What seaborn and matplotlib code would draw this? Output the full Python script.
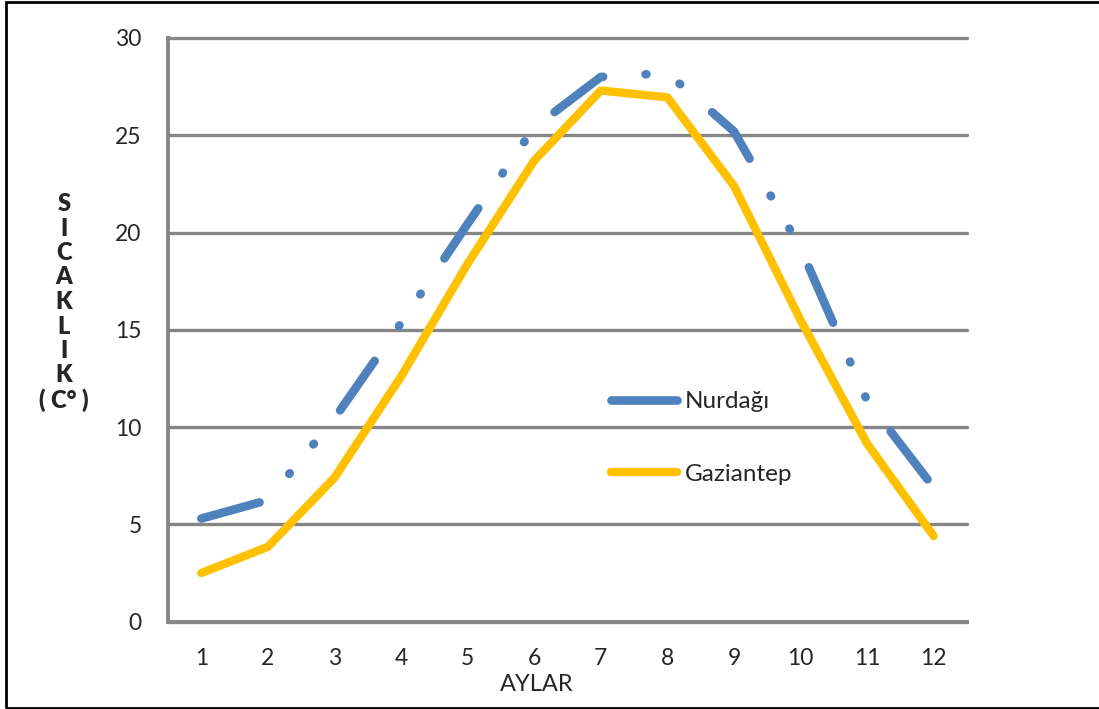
import numpy as np
import pandas as pd
import matplotlib
matplotlib.use("Agg")
import matplotlib.pyplot as plt
from matplotlib.patches import Rectangle
from matplotlib.ticker import MultipleLocator
import seaborn as sns

# monthly mean temperatures
months = list(range(1, 13))
nurdagi = [5.3, 6.25, 10.45, 15.35, 20.45, 25.4, 28.0, 28.2, 25.2, 19.2, 11.35, 6.9]
gaziantep = [2.5, 3.85, 7.4, 12.6, 18.4, 23.7, 27.3, 26.95, 22.4, 15.5, 9.15, 4.4]
series_names = ["Nurdağı", "Gaziantep"]
y_ticks = list(range(0, 31, 5))
y_label_letters = ["S", "I", "C", "A", "K", "L", "I", "K", "( C° )"]

BLUE = "#4F81BD"
YELLOW = "#FFC000"
GRAY = "#868686"

sns.set_style("white")
plt.rcParams["font.family"] = ["Lato", "DejaVu Sans"]
plt.rcParams["lines.scale_dashes"] = False

fig = plt.figure(figsize=(10.99, 7.09), dpi=100)
ax = fig.add_axes([168 / 1099, 1 - 621.7 / 709, 799 / 1099, 583.7 / 709])

df = pd.DataFrame({"ay": months, series_names[0]: nurdagi, series_names[1]: gaziantep})

sns.lineplot(data=df, x="ay", y=series_names[0], ax=ax, color=BLUE, lw=6.2,
             label=series_names[0])
sns.lineplot(data=df, x="ay", y=series_names[1], ax=ax, color=YELLOW, lw=6.0,
             label=series_names[1])

l_n, l_g = ax.lines[0], ax.lines[1]
l_n.set_dashes([43.5, 30.6, 0.6, 26.8, 0.6, 30.6])
l_n.set_dash_capstyle("round")
l_n.set_solid_joinstyle("round")
l_g.set_solid_capstyle("round")
l_g.set_solid_joinstyle("round")

ax.set_xlim(0.5, 12.5)
ax.set_ylim(0, 30)

ax.set_xticks(np.arange(0.5, 13, 1))
ax.set_xticklabels([])
ax.set_xticks(months, minor=True)
ax.set_xticklabels([str(m) for m in months], minor=True, fontsize=16.5)
ax.tick_params(axis="x", which="major", direction="out", length=6, width=2.5, color=GRAY)
ax.tick_params(axis="x", which="minor", length=0, pad=19)

ax.set_yticks(y_ticks)
ax.set_yticklabels([str(t) for t in y_ticks], fontsize=16.5)
ax.yaxis.set_minor_locator(MultipleLocator(1))
ax.tick_params(axis="y", which="major", direction="out", length=7, width=2.5,
               color=GRAY, pad=12)
ax.tick_params(axis="y", which="minor", direction="in", length=6, width=2.5, color=GRAY)

ax.yaxis.grid(True, which="major", color=GRAY, lw=2.4)
ax.xaxis.grid(False)
ax.set_axisbelow(True)
for gl in ax.get_ygridlines():
    gl.set_clip_on(False)

for side in ["top", "right"]:
    ax.spines[side].set_visible(False)
for side in ["left", "bottom"]:
    ax.spines[side].set_color(GRAY)
    ax.spines[side].set_linewidth(2.8)

ax.set_xlabel("AYLAR", fontsize=17)
ax.xaxis.set_label_coords((537 - 168) / 799, -0.09)
ax.set_ylabel("")

for i, letter in enumerate(y_label_letters):
    fig.text(64 / 1099, 1 - (204 + 24.5 * i) / 709, letter, fontsize=17,
             fontweight="heavy", ha="center", va="center")

leg = ax.legend(loc="center left", bbox_to_anchor=(0.554, 0.3147), frameon=False,
                fontsize=17.5, handlelength=2.75, handletextpad=0.3,
                labelspacing=2.1, borderpad=0, borderaxespad=0)
for lh in leg.get_lines():
    lh.set_linestyle("-")
    lh.set_solid_capstyle("round")

fig.patches.append(Rectangle((6 / 1099, 1.5 / 709), 1.0, 1 - 3 / 709,
                             transform=fig.transFigure, fill=False,
                             ec="black", lw=2))

fig.savefig("out.png", dpi=100)
plt.close(fig)
